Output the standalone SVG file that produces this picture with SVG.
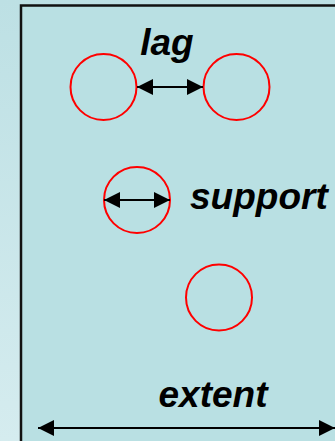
<svg xmlns="http://www.w3.org/2000/svg" width="335" height="441" viewBox="0 0 335 441">
<defs>
<linearGradient id="bg" x1="0" y1="0" x2="0" y2="1">
<stop offset="0" stop-color="#bde0e4"/>
<stop offset="1" stop-color="#d5ecef"/>
</linearGradient>
<marker id="ah" viewBox="0 0 16 16" refX="16" refY="8" markerWidth="16" markerHeight="16" markerUnits="userSpaceOnUse" orient="auto-start-reverse">
<path d="M0,0 L16,8 L0,16 Z" fill="#000"/>
</marker>
</defs>
<style>
.c{fill:none;stroke:#ff0000;stroke-width:2}
.t{font-family:"Liberation Sans",Arial,sans-serif;font-weight:bold;font-style:italic;font-size:37px;fill:#000}
.a{stroke:#000;stroke-width:2;fill:none}
</style>
<rect x="0" y="0" width="335" height="441" fill="url(#bg)"/>
<rect id="frame" x="21" y="5.5" width="330" height="450" fill="#b9e0e3" stroke="#111" stroke-width="2.5"/>
<g id="circle1"><circle class="c" cx="103.5" cy="87" r="33"/></g>
<g id="circle2"><circle class="c" cx="236.5" cy="87" r="33"/></g>
<g id="circle3"><circle class="c" cx="137" cy="200" r="33"/></g>
<g id="circle4"><circle class="c" cx="219" cy="297.5" r="33"/></g>
<g id="labels">
<text class="t" x="167" y="55" text-anchor="middle" font-size="36">lag</text>
<text class="t" x="190" y="209">support</text>
<text class="t" x="213" y="407" text-anchor="middle">extent</text>
</g>
<g id="connectors">
<line class="a" x1="137" y1="87" x2="203" y2="87" marker-start="url(#ah)" marker-end="url(#ah)"/>
<line class="a" x1="104" y1="200" x2="170" y2="200" marker-start="url(#ah)" marker-end="url(#ah)"/>
<line class="a" x1="38" y1="428" x2="335" y2="428" stroke-width="3" marker-start="url(#ah)" marker-end="url(#ah)"/>
</g>
</svg>
